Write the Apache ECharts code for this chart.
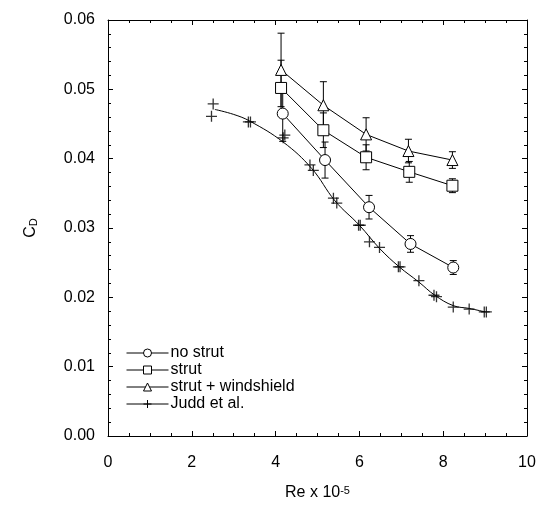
<!DOCTYPE html>
<html>
<head>
<meta charset="utf-8">
<script src="https://cdn.jsdelivr.net/npm/echarts@6/dist/echarts.min.js"></script>
<style>
html,body{margin:0;padding:0;background:#fff;}
#chart{width:539px;height:516px;}
</style>
</head>
<body>
<div id="chart"></div>
<script>
// ---- data ----
const noStrutX   = [4.17, 5.18, 6.23, 7.22, 8.24];
const noStrutY   = [0.0465, 0.0398, 0.0330, 0.0277, 0.0243];
const noStrutErr = [0.0040, 0.0026, 0.0017, 0.0012, 0.0010];

const strutX   = [4.13, 5.14, 6.16, 7.19, 8.22];
const strutY   = [0.0502, 0.0441, 0.0402, 0.0381, 0.0361];
const strutErr = [0.0040, 0.0025, 0.0018, 0.0015, 0.0010];

const windX   = [4.13, 5.14, 6.16, 7.17, 8.22];
const windY   = [0.0528, 0.0477, 0.0435, 0.0411, 0.0398];
const windErr = [0.0053, 0.0034, 0.0024, 0.0017, 0.0012];

const juddX = [2.51, 2.47, 3.35, 3.40, 4.22, 4.18, 4.82, 4.90, 5.38, 5.46, 5.98, 6.02, 6.24, 6.48, 6.93, 6.97, 7.42, 7.78, 7.84, 8.24, 8.62, 8.98, 9.03];
const juddY = [0.0479, 0.0461, 0.0453, 0.0453, 0.0434, 0.0430, 0.0391, 0.0383, 0.0343, 0.0336, 0.0304, 0.0304, 0.0280, 0.0272, 0.0244, 0.0244, 0.0224, 0.0203, 0.0201, 0.0186, 0.0183, 0.0179, 0.0179];

const fitX = [2.55, 2.99, 3.39, 4.18, 4.86, 5.42, 6.00, 6.49, 6.95, 7.42, 7.80, 8.24, 8.62, 9.00];
const fitY = [0.0471, 0.0464, 0.0454, 0.0424, 0.0386, 0.0339, 0.0304, 0.0270, 0.0244, 0.0222, 0.0203, 0.0188, 0.0184, 0.0179];

const xTicks = [0, 2, 4, 6, 8, 10];
const yTicks = [0.00, 0.01, 0.02, 0.03, 0.04, 0.05, 0.06];

const seriesNames = ['no strut', 'strut', 'strut + windshield', 'Judd et al.'];
// ---------------------------------------

const FONT = '"Liberation Sans", Arial, Helvetica, sans-serif';
const zip2 = (a, b) => a.map((v, i) => [v, b[i]]);
const zip3 = (a, b, c) => a.map((v, i) => [v, b[i], c[i]]);
const PLUS = 'path://M0,6H12M6,0V12';

function errRender(params, api) {
  const x = api.value(0), y = api.value(1), e = api.value(2);
  const t = api.coord([x, y + e]);
  const b = api.coord([x, y - e]);
  const w = 3.5;
  const st = {stroke: '#000', lineWidth: 1};
  return {type: 'group', children: [
    {type: 'line', shape: {x1: t[0], y1: t[1], x2: b[0], y2: b[1]}, style: st},
    {type: 'line', shape: {x1: t[0] - w, y1: t[1], x2: t[0] + w, y2: t[1]}, style: st},
    {type: 'line', shape: {x1: b[0] - w, y1: b[1], x2: b[0] + w, y2: b[1]}, style: st}
  ]};
}

const baseAxisLine = {show: true, onZero: false, lineStyle: {color: '#000', width: 1}};

const chart = echarts.init(document.getElementById('chart'), null, {renderer: 'canvas'});
const option = {
  animation: false,
  backgroundColor: '#fff',
  textStyle: {fontFamily: FONT, color: '#000'},
  grid: {left: 108, right: 12, top: 20, bottom: 80, containLabel: false},
  legend: {
    orient: 'vertical',
    left: 121,
    top: 340,
    itemWidth: 42,
    itemHeight: 10,
    itemGap: 1,
    lineStyle: {width: 1, color: '#000'},
    itemStyle: {borderWidth: 1, borderColor: '#000'},
    textStyle: {fontFamily: FONT, fontSize: 16, color: '#000', lineHeight: 16, padding: [0, 0, 0, -3]},
    data: seriesNames.map(n => ({name: n}))
  },
  xAxis: [{
    type: 'value', min: xTicks[0], max: xTicks[xTicks.length - 1], interval: 2,
    position: 'bottom',
    name: '{a|Re x 10}{b|-5}', nameLocation: 'middle', nameGap: 49,
    nameTextStyle: {rich: {
      a: {fontFamily: FONT, fontSize: 16, color: '#000', lineHeight: 16, verticalAlign: 'bottom'},
      b: {fontFamily: FONT, fontSize: 11, color: '#000', lineHeight: 11, padding: [0, 0, 7, 0], verticalAlign: 'top'}
    }},
    axisLine: baseAxisLine,
    axisTick: {show: true, inside: true, length: 5, lineStyle: {color: '#000'}},
    minorTick: {show: true, splitNumber: 4, length: 3, lineStyle: {color: '#000'}},
    splitLine: {show: false},
    axisLabel: {fontFamily: FONT, fontSize: 16, color: '#000', margin: 19}
  }, {
    type: 'value', min: xTicks[0], max: xTicks[xTicks.length - 1], interval: 2,
    position: 'top',
    axisLine: baseAxisLine,
    axisTick: {show: true, inside: true, length: 5, lineStyle: {color: '#000'}},
    minorTick: {show: true, splitNumber: 4, length: 3, lineStyle: {color: '#000'}},
    splitLine: {show: false},
    axisLabel: {show: false}
  }],
  yAxis: [{
    type: 'value', min: yTicks[0], max: yTicks[yTicks.length - 1], interval: 0.01,
    position: 'left',
    name: '{c|C}{d|D}', nameLocation: 'middle', nameGap: 69, nameRotate: 90,
    nameTextStyle: {rich: {
      c: {fontFamily: FONT, fontSize: 16, color: '#000', lineHeight: 16, verticalAlign: 'top'},
      d: {fontFamily: FONT, fontSize: 11, color: '#000', lineHeight: 11, padding: [7, 0, 0, 0], verticalAlign: 'bottom'}
    }},
    axisLine: baseAxisLine,
    axisTick: {show: true, inside: true, length: 5, lineStyle: {color: '#000'}},
    minorTick: {show: true, splitNumber: 5, length: 3, lineStyle: {color: '#000'}},
    splitLine: {show: false},
    axisLabel: {fontFamily: FONT, fontSize: 16, color: '#000', margin: 13, formatter: v => v.toFixed(2)}
  }, {
    type: 'value', min: yTicks[0], max: yTicks[yTicks.length - 1], interval: 0.01,
    position: 'right',
    axisLine: baseAxisLine,
    axisTick: {show: true, inside: true, length: 5, lineStyle: {color: '#000'}},
    minorTick: {show: true, splitNumber: 5, length: 3, lineStyle: {color: '#000'}},
    splitLine: {show: false},
    axisLabel: {show: false}
  }],
  series: [
    {type: 'custom', name: 'err1', renderItem: errRender, data: zip3(noStrutX, noStrutY, noStrutErr), z: 1, silent: true},
    {type: 'custom', name: 'err2', renderItem: errRender, data: zip3(strutX, strutY, strutErr), z: 1, silent: true},
    {type: 'custom', name: 'err3', renderItem: errRender, data: zip3(windX, windY, windErr), z: 1, silent: true},
    {
      type: 'line', name: 'Judd et al.', data: zip2(fitX, fitY), smooth: 0.4,
      symbol: PLUS, symbolSize: 11, showSymbol: false,
      lineStyle: {color: '#000', width: 1},
      itemStyle: {color: 'rgba(0,0,0,0)', borderColor: '#000', borderWidth: 1},
      z: 2
    },
    {
      type: 'scatter', name: 'Judd points', data: zip2(juddX, juddY),
      symbol: PLUS, symbolSize: 11,
      itemStyle: {color: 'rgba(0,0,0,0)', borderColor: '#000', borderWidth: 1.3},
      z: 3
    },
    {
      type: 'line', name: 'no strut', data: zip2(noStrutX, noStrutY),
      symbol: 'circle', symbolSize: 11,
      lineStyle: {color: '#000', width: 1},
      itemStyle: {color: '#fff', borderColor: '#000', borderWidth: 1},
      z: 4
    },
    {
      type: 'line', name: 'strut', data: zip2(strutX, strutY),
      symbol: 'rect', symbolSize: 11,
      lineStyle: {color: '#000', width: 1},
      itemStyle: {color: '#fff', borderColor: '#000', borderWidth: 1},
      z: 4
    },
    {
      type: 'line', name: 'strut + windshield', data: zip2(windX, windY),
      symbol: 'triangle', symbolSize: 11,
      lineStyle: {color: '#000', width: 1},
      itemStyle: {color: '#fff', borderColor: '#000', borderWidth: 1},
      z: 4
    }
  ]
};
chart.setOption(option);
</script>
</body>
</html>
